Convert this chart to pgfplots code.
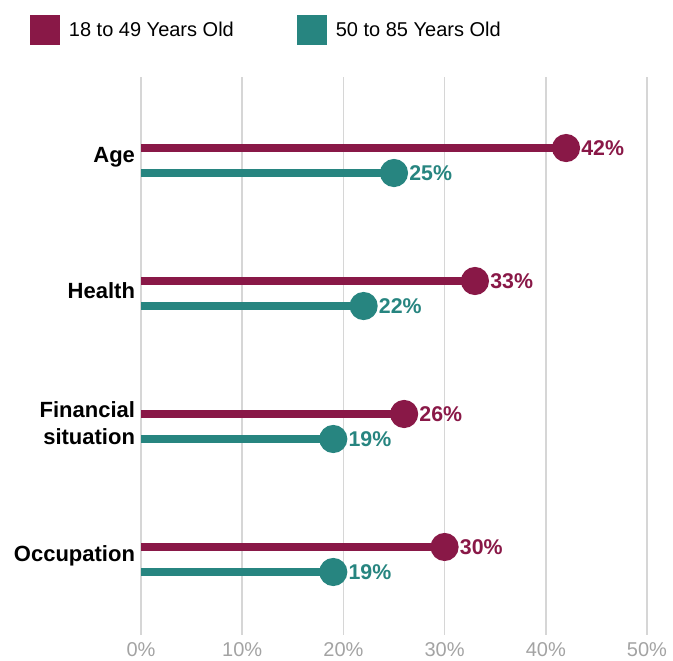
\documentclass[border=0pt]{standalone}
\usepackage{pgfplots}
\pgfplotsset{compat=1.18}
\usepackage{fontspec}
\setmainfont{Liberation Sans}
\definecolor{maroon}{HTML}{891847}
\definecolor{teal}{HTML}{278580}
\definecolor{gridgray}{HTML}{D6D6D6}
\definecolor{tickgray}{HTML}{A3A3A3}
\begin{document}
\begin{tikzpicture}
\begin{axis}[
  scale only axis,
  width=379.5pt, height=418.5pt,
  xmin=0, xmax=50,
  ymin=-0.628, ymax=3.568,
  y dir=reverse,
  clip=false,
  axis line style={draw=none},
  major tick length=0pt,
  xtick={0,10,20,30,40,50},
  xticklabel={\pgfmathprintnumber{\tick}\%},
  /pgf/number format/assume math mode=true,
  xticklabel style={font=\fontsize{15}{18}\selectfont, text=tickgray, yshift=-2pt},
  ytick={0,1,2,3},
  yticklabels={Age,Health,{Financial\\situation},Occupation},
  yticklabel style={font=\fontsize{16.5}{20}\selectfont\bfseries, align=right, xshift=-1pt, yshift=2.5pt},
  xmajorgrids=true,
  ymajorgrids=false,
  grid style={gridgray, line width=1.1pt},
  legend columns=2,
  legend style={at={(-0.2194,1.1111)}, anchor=north west, draw=none, inner sep=0pt,
    font=\fontsize{15}{18}\selectfont, /tikz/every even column/.append style={column sep=45.5pt}},
  legend cell align=left,
  nodes near coords={\pgfmathprintnumber{\pgfplotspointmeta}\%},
  point meta=x,
  every node near coord/.append style={anchor=west, inner sep=0pt, xshift=8.5pt, font=\fontsize{16}{19}\selectfont\bfseries},
]
\addplot[xcomb, line width=6pt, maroon, mark=*, mark size=7.5pt, mark options={fill=maroon, draw=none},
  every node near coord/.append style={text=maroon},
  legend image code/.code={\fill[maroon, draw=none, line width=0pt] (0pt,-11.25pt) rectangle (22.5pt,11.25pt); \path[draw=none, fill=none] (0pt,0pt) -- (27pt,0pt);}]
  coordinates {(42,-0.094) (33,0.906) (26,1.906) (30,2.906)};
\addlegendentry{18 to 49 Years Old}
\addplot[xcomb, line width=6pt, teal, mark=*, mark size=7.5pt, mark options={fill=teal, draw=none},
  every node near coord/.append style={text=teal},
  legend image code/.code={\fill[teal, draw=none, line width=0pt] (0pt,-11.25pt) rectangle (22.5pt,11.25pt); \path[draw=none, fill=none] (0pt,0pt) -- (27pt,0pt);}]
  coordinates {(25,0.094) (22,1.094) (19,2.094) (19,3.094)};
\addlegendentry{50 to 85 Years Old}
\coordinate (bl) at (axis description cs:-0.27866,-0.0448);
\coordinate (tr) at (axis description cs:1.05138,1.138);
\end{axis}
\pgfresetboundingbox
\useasboundingbox (bl) rectangle (tr);
\end{tikzpicture}
\end{document}
